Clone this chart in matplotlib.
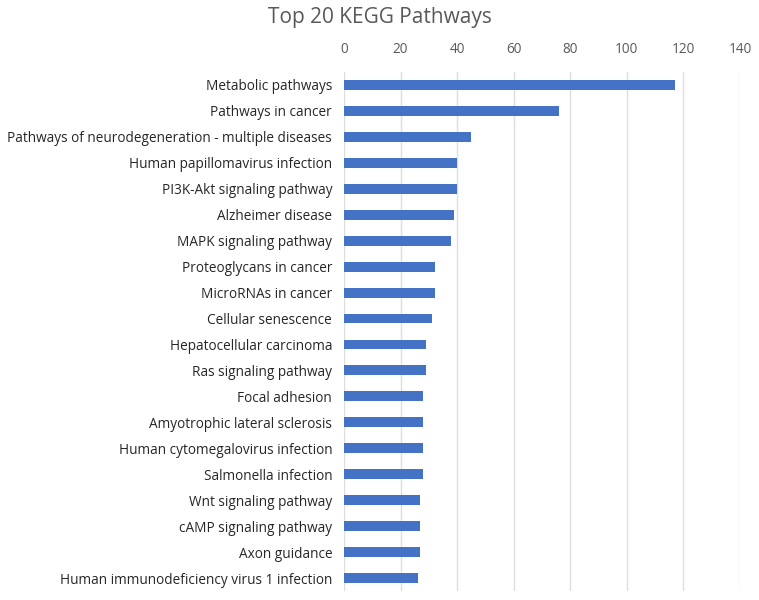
import matplotlib
matplotlib.use('Agg')
import matplotlib.pyplot as plt

pathways = [
    "Metabolic pathways",
    "Pathways in cancer",
    "Pathways of neurodegeneration - multiple diseases",
    "Human papillomavirus infection",
    "PI3K-Akt signaling pathway",
    "Alzheimer disease",
    "MAPK signaling pathway",
    "Proteoglycans in cancer",
    "MicroRNAs in cancer",
    "Cellular senescence",
    "Hepatocellular carcinoma",
    "Ras signaling pathway",
    "Focal adhesion",
    "Amyotrophic lateral sclerosis",
    "Human cytomegalovirus infection",
    "Salmonella infection",
    "Wnt signaling pathway",
    "cAMP signaling pathway",
    "Axon guidance",
    "Human immunodeficiency virus 1 infection",
]
counts = [117, 76, 45, 40, 40, 39, 38, 32, 32, 31, 29, 29, 28, 28, 28, 28, 27, 27, 27, 26]
xticks = [0, 20, 40, 60, 80, 100, 120, 140]

plt.rcParams['font.family'] = ['Open Sans', 'DejaVu Sans']
text_color = '#595959'

fig = plt.figure(figsize=(7.59, 6.0), dpi=100)
ax = fig.add_axes([344 / 759, 1 - 591 / 600, 396 / 759, 519 / 600])

y = list(range(len(pathways)))
ax.barh(y, counts, height=0.38, color='#4472C4', zorder=3)

ax.set_xlim(0, 140)
ax.set_ylim(len(pathways) - 0.5, -0.5)
ax.set_xticks(xticks)
ax.set_yticks(y)
ax.set_yticklabels(pathways, fontsize=9.8, color='#262626')
ax.xaxis.tick_top()
ax.tick_params(axis='x', length=0, labelsize=9.8, labelcolor=text_color, pad=11)
ax.tick_params(axis='y', length=0, pad=8.5)
ax.grid(axis='x', color='#DEDEDE', linewidth=1, zorder=0)
for s in ax.spines.values():
    s.set_visible(False)

fig.text(380 / 759, 1 - 18 / 600, "Top 20 KEGG Pathways", ha='center', va='center',
         fontsize=15, color=text_color)

plt.savefig('out.png', dpi=100)
plt.close(fig)
